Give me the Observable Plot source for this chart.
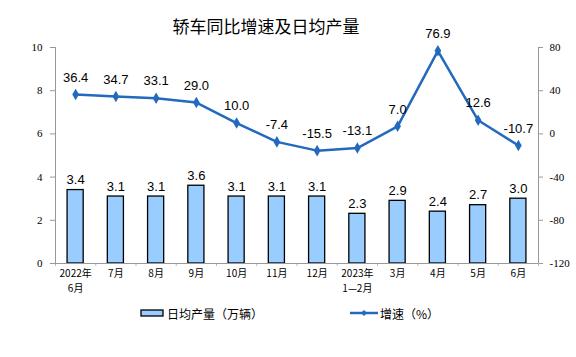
<!DOCTYPE html>
<html><head><meta charset="utf-8">
<script src="https://cdn.jsdelivr.net/npm/d3@7"></script>
<script src="https://cdn.jsdelivr.net/npm/@observablehq/plot@0.6"></script>
<style>
body{margin:0;background:#fff;}
#wrap{position:relative;width:576px;height:357px;overflow:hidden;}
#title{position:absolute;left:0;width:532px;top:13px;text-align:center;font-family:"Noto Sans CJK SC";font-size:17px;color:#000;}
#legend{position:absolute;top:303px;left:0;width:576px;height:20px;font-family:"Noto Sans CJK SC";font-size:12px;color:#000;}
.lg{position:absolute;display:flex;align-items:center;top:0;height:20px;}
#chart svg{overflow:visible;position:absolute;top:0;left:0;}
</style></head>
<body><div id="wrap"><div id="chart"></div><div id="title">轿车同比增速及日均产量</div>
<div id="legend">
 <div class="lg" style="left:140px"><svg width="24" height="10"><rect x="1" y="2" width="22" height="6" fill="#99CCFF" stroke="#000" stroke-width="1.3"/></svg><span style="margin-left:3px">日均产量（万辆）</span></div>
 <div class="lg" style="left:350px"><svg width="28" height="10"><line x1="0" y1="5" x2="28" y2="5" stroke="#2369BD" stroke-width="2.5"/><path d="M14,2 L17,5 L14,8 L11,5Z" fill="#2369BD"/></svg><span style="margin-left:2px">增速（%）</span></div>
</div></div>
<script>
const categories = ["2022年\n6月","7月","8月","9月","10月","11月","12月","2023年\n1—2月","3月","4月","5月","6月"];
const output = [3.4,3.1,3.1,3.6,3.1,3.1,3.1,2.3,2.9,2.4,2.7,3.0];
const growth = [36.4,34.7,33.1,29.0,10.0,-7.4,-15.5,-13.1,7.0,76.9,12.6,-10.7];
const leftTicks = [0,2,4,6,8,10];
const rightMin = -120, rightMax = 80, leftMax = 10;

const data = categories.map((c,i)=>({i, c, output: output[i], growth: growth[i]}));
const toLeft = v => (v - rightMin)/(rightMax - rightMin)*leftMax;
const idx = d3.range(categories.length);
const idx2 = idx.filter(i => categories[i].includes("\n"));
const bounds = d3.range(-0.5, categories.length, 1);

const lineColor = "#2369BD";
const xLabelStyle = {fontFamily:"Noto Sans CJK SC", fontSize:10, tickSize:0, label:null};
const plot = Plot.plot({
  width: 576, height: 300,
  marginTop: 47, marginBottom: 37, marginLeft: 55, marginRight: 38,
  x: {type:"linear", domain:[-0.5, categories.length-0.5]},
  y: {domain:[0, leftMax]},
  style: {fontFamily:"Liberation Serif", fontSize:"11px", color:"#000", background:"#fff"},
  marks: [
    Plot.rect(data, {x1: d=>d.i-0.2, x2: d=>d.i+0.2, y1: 0, y2: "output", fill:"#99CCFF", stroke:"#000", strokeWidth:1.3}),
    Plot.text(data, {x:"i", y:"output", text: d=>d.output.toFixed(1), dy:-10, fontFamily:"Liberation Sans", fontSize:13}),
    Plot.line(data, {x:"i", y: d=>toLeft(d.growth), stroke: lineColor, strokeWidth:2.5}),
    Plot.dot(data, {x:"i", y: d=>toLeft(d.growth), symbol:"diamond", r:3.5, fill: lineColor}),
    Plot.text(data, {x:"i", y: d=>toLeft(d.growth), text: d=>d.growth.toFixed(1), dy:-17, fontFamily:"Liberation Sans", fontSize:13}),
    Plot.axisY({anchor:"left", ticks: leftTicks, tickSize:5, tickPadding:8, stroke:"#999", label:null}),
    Plot.axisY({anchor:"right", ticks: leftTicks, tickFormat: d => d*(rightMax-rightMin)/leftMax + rightMin, tickSize:4, tickPadding:7, stroke:"#999", label:null}),
    Plot.ruleX(bounds, {x: d=>d, y1:0, y2:0, insetBottom:-3, stroke:"#bbb"}),
    Plot.ruleY([0], {stroke:"#999"}),
    Plot.ruleX([-0.5], {y1:0, y2:leftMax, stroke:"#999"}),
    Plot.ruleX([categories.length-0.5], {y1:0, y2:leftMax, stroke:"#999"}),
    Plot.axisX({...xLabelStyle, ticks: idx, tickFormat: i => categories[i].split("\n")[0], tickPadding:6}),
    Plot.axisX({...xLabelStyle, ticks: idx2, tickFormat: i => categories[i].split("\n")[1], tickPadding:21})
  ]
});
document.getElementById("chart").appendChild(plot);
</script>
</body></html>
